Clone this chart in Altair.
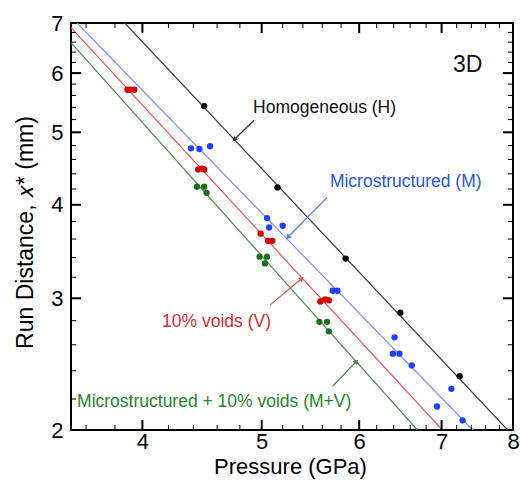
import altair as alt
import pandas as pd

# Run distance to detonation (mm) against input shock pressure (GPa), 3D cases
h_pressure = [4.49, 5.15, 5.85, 6.48, 7.24]
h_run = [5.42, 4.22, 3.39, 2.87, 2.36]

m_pressure = [4.38, 4.45, 4.54, 5.05, 5.07, 5.20, 5.71, 5.76,
              6.41, 6.39, 6.47, 6.62, 7.13, 6.94, 7.28]
m_run = [4.76, 4.75, 4.79, 3.84, 3.73, 3.75, 3.07, 3.07,
         2.66, 2.53, 2.53, 2.44, 2.27, 2.15, 2.06]

v_pressure = [3.89, 3.91, 3.94, 4.44, 4.47, 4.49, 4.99, 5.06, 5.10, 5.58, 5.63, 5.67]
v_run = [5.70, 5.70, 5.70, 4.46, 4.47, 4.46, 3.66, 3.58, 3.58, 2.97, 2.99, 2.98]

mv_pressure = [4.43, 4.49, 4.51, 4.98, 5.05, 5.03, 5.57, 5.65, 5.67]
mv_run = [4.23, 4.23, 4.15, 3.41, 3.41, 3.34, 2.79, 2.79, 2.71]

# Pop-plot fit lines, given by their two end points
fit_series = ["H", "M", "V", "MV"]
fit_p_start = [3.87, 3.54, 3.50, 3.50]
fit_r_start = [7.00, 7.00, 6.90, 6.59]
fit_p_end = [7.92, 7.42, 7.01, 6.69]
fit_r_end = [2.00, 2.00, 2.00, 2.00]

# Labels and their leader arrows
label_series = ["H", "M", "V", "MV", "3D"]
label_text = ["Homogeneous (H)", "Microstructured (M)", "10% voids (V)",
              "Microstructured + 10% voids (M+V)", "3D"]
label_p = [4.92, 5.68, 4.15, 3.54, 7.15]
label_r = [5.39, 4.29, 2.79, 2.18, 6.15]

arrow_series = ["H", "M", "V", "MV"]
arrow_p_start = [4.93, 5.65, 5.08, 5.71]
arrow_r_start = [5.19, 4.09, 2.94, 2.29]
arrow_p_end = [4.75, 5.25, 5.39, 5.97]
arrow_r_end = [4.89, 3.62, 3.19, 2.47]
arrow_head_angle = [226, 225, 50, 45]

x_labels = [4, 5, 6, 7, 8]
y_labels = [2, 3, 4, 5, 6, 7]
x_major = [4, 5, 6, 7]
x_minor = [3.6, 3.8, 4.2, 4.4, 4.6, 4.8, 5.2, 5.4, 5.6, 5.8,
           6.2, 6.4, 6.6, 6.8, 7.2, 7.4, 7.6, 7.8]
y_major = [3, 4, 5, 6]
y_minor = [2.2, 2.4, 2.6, 2.8, 3.2, 3.4, 3.6, 3.8, 4.2, 4.4, 4.6, 4.8,
           5.2, 5.4, 5.6, 5.8, 6.2, 6.4, 6.6, 6.8]

W, H = 442, 407
FONT = "Liberation Sans"

series_order = ["H", "M", "V", "MV", "3D"]
point_colors = ["#000000", "#1f3fff", "#d40000", "#1b6e1b", "#000000"]
line_colors = ["#3c3c3c", "#7f8fff", "#e85555", "#4f8f4f", "#000000"]
text_colors = ["#111111", "#2a55e0", "#d42a2a", "#23862a", "#111111"]
arrow_colors = ["#333333", "#4a78e8", "#e05050", "#3a8a3a", "#000000"]


def color_enc(rng):
    return alt.Color("series:N", scale=alt.Scale(domain=series_order, range=rng), legend=None)


points = pd.DataFrame({
    "series": ["H"] * len(h_pressure) + ["M"] * len(m_pressure)
    + ["V"] * len(v_pressure) + ["MV"] * len(mv_pressure),
    "p": h_pressure + m_pressure + v_pressure + mv_pressure,
    "r": h_run + m_run + v_run + mv_run,
})
fits = pd.DataFrame({"series": fit_series, "p": fit_p_start, "r": fit_r_start,
                     "p2": fit_p_end, "r2": fit_r_end})
labels = pd.DataFrame({"series": label_series, "text": label_text,
                       "p": label_p, "r": label_r})
arrows = pd.DataFrame({"series": arrow_series, "p": arrow_p_start, "r": arrow_r_start,
                       "p2": arrow_p_end, "r2": arrow_r_end, "angle": arrow_head_angle})

xscale = alt.Scale(type="log", domain=[3.5, 8], nice=False)
yscale = alt.Scale(type="log", domain=[2, 7], nice=False)

xaxis = alt.Axis(values=x_labels, format="d", title="Pressure (GPa)", ticks=False,
                 domain=False, grid=False, labelFontSize=22, labelPadding=1,
                 labelFlush=False, labelOverlap=False, labelColor="black",
                 titleFontSize=22, titleFontWeight="normal", titleColor="black",
                 titleX=219, titleY=43, titleBaseline="alphabetic", titleAlign="center")
yaxis = alt.Axis(values=y_labels, format="d", title="Run Distance, 𝑥* (mm)", ticks=False,
                 domain=False, grid=False, labelFontSize=22, labelPadding=8,
                 labelFlush=False, labelOverlap=False, labelColor="black",
                 titleFontSize=23, titleFontWeight="normal", titleColor="black",
                 titleAngle=270, titleX=-46, titleY=209, titleBaseline="middle",
                 titleAlign="center")

X = alt.X("p:Q", scale=xscale, axis=xaxis)
Y = alt.Y("r:Q", scale=yscale, axis=yaxis)

fit_layer = alt.Chart(fits).mark_rule(strokeWidth=1.2, clip=True).encode(
    x=X, y=Y, x2="p2:Q", y2="r2:Q", color=color_enc(line_colors))

point_layer = alt.Chart(points).mark_point(filled=True, size=40, opacity=1).encode(
    x=X, y=Y, color=color_enc(point_colors))

arrow_layer = alt.Chart(arrows).mark_rule(strokeWidth=1.2).encode(
    x=X, y=Y, x2="p2:Q", y2="r2:Q", color=color_enc(arrow_colors))

head_layer = alt.Chart(arrows).mark_point(shape="triangle-up", filled=True, size=30,
                                          opacity=1).encode(
    x=alt.X("p2:Q", scale=xscale, axis=xaxis), y=alt.Y("r2:Q", scale=yscale, axis=yaxis),
    angle=alt.Angle("angle:Q", scale=None), color=color_enc(arrow_colors))

text_layer = alt.Chart(labels).mark_text(align="left", baseline="middle", font=FONT).encode(
    x=X, y=Y, text="text:N", color=color_enc(text_colors),
    size=alt.condition(alt.datum.series == "3D", alt.value(23), alt.value(17.5)))


# Inward-pointing ticks on all four sides of the frame
def x_ticks(values, length, width):
    df = pd.DataFrame({"p": values})
    bottom = alt.Chart(df).mark_rule(color="black", strokeWidth=width).encode(
        x=X, y=alt.value(H), y2=alt.value(H - length))
    top = alt.Chart(df).mark_rule(color="black", strokeWidth=width).encode(
        x=X, y=alt.value(0), y2=alt.value(length))
    return [bottom, top]


def y_ticks(values, length, width):
    df = pd.DataFrame({"r": values})
    left = alt.Chart(df).mark_rule(color="black", strokeWidth=width).encode(
        y=Y, x=alt.value(0), x2=alt.value(length))
    right = alt.Chart(df).mark_rule(color="black", strokeWidth=width).encode(
        y=Y, x=alt.value(W), x2=alt.value(W - length))
    return [left, right]


tick_layers = (x_ticks(x_major, 10, 2) + x_ticks(x_minor, 5, 1)
               + y_ticks(y_major, 10, 2) + y_ticks(y_minor, 5, 1))

chart = alt.layer(
    fit_layer, *tick_layers, arrow_layer, head_layer, point_layer, text_layer
).resolve_scale(color="independent").properties(
    width=W, height=H,
    autosize=alt.AutoSizeParams(type="none"),
    padding={"left": 71, "top": 23, "right": 7, "bottom": 50},
    background="white",
).configure(font=FONT).configure_view(stroke="black", strokeWidth=2)

chart.save("out.html", embed_options={"renderer": "svg", "actions": False})
